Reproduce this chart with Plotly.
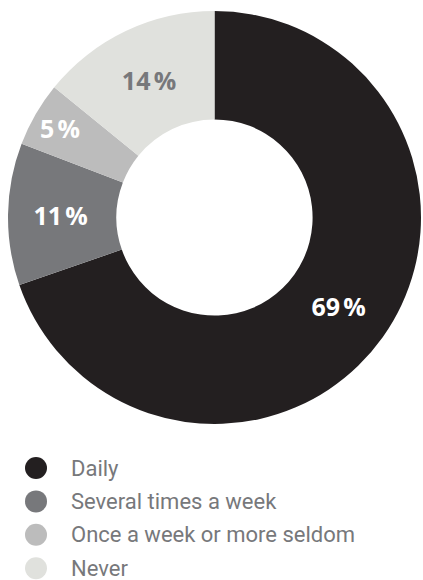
import plotly.graph_objects as go

categories = ["Daily", "Several times a week", "Once a week or more seldom", "Never"]
values = [69, 11, 5, 14]
slice_colors = ["#231f20", "#77787b", "#bcbcbc", "#e0e1dd"]
label_colors = ["#ffffff", "#ffffff", "#ffffff", "#77787b"]

W, H = 423, 580
fig = go.Figure()

fig.add_trace(go.Pie(
    labels=categories,
    values=values,
    sort=False,
    direction="clockwise",
    rotation=0,
    hole=0.475,
    marker=dict(colors=slice_colors, line=dict(width=0)),
    texttemplate="%{value}\u202f%",
    textposition="inside",
    insidetextorientation="horizontal",
    textfont=dict(family="Open Sans", size=25, color=label_colors, weight=700),
    domain=dict(x=[8 / W, 421 / W], y=[(H - 425) / H, (H - 10) / H]),
    showlegend=False,
    hoverinfo="skip",
))

# legend drawn as a scatter of circles, one per category index
idx = list(range(len(categories)))
fig.add_trace(go.Scatter(
    x=[36] * len(categories),
    y=idx,
    mode="markers",
    marker=dict(symbol="circle", size=22, color=slice_colors, line=dict(width=0)),
    showlegend=False,
    hoverinfo="skip",
))

for i, cat in enumerate(categories):
    fig.add_annotation(
        x=69, y=i, xref="x", yref="y",
        text=cat, showarrow=False, xanchor="left", yanchor="middle",
        font=dict(family="Roboto", size=22, color="#77787b", weight=400),
    )

step = 33.4
first = 468
fig.update_layout(
    width=W, height=H,
    margin=dict(l=0, r=0, t=0, b=0),
    paper_bgcolor="white",
    plot_bgcolor="rgba(0,0,0,0)",
    xaxis=dict(range=[0, W], visible=False, fixedrange=True),
    yaxis=dict(range=[(H - first) / step, -first / step], visible=False, fixedrange=True),
    showlegend=False,
)

fig.write_html("out.html")
